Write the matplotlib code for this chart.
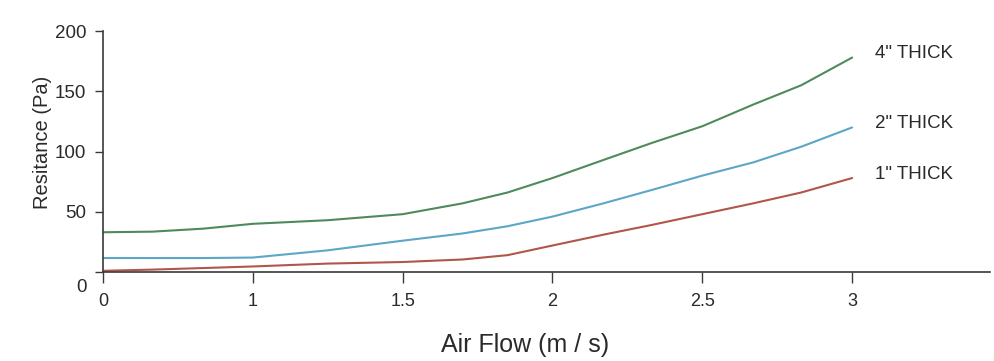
import numpy as np
import matplotlib.pyplot as plt
import matplotlib.transforms as mtransforms

# tick positions on the x axis are evenly spaced although the values are not
tick_flow = [0, 1, 1.5, 2, 2.5, 3]
tick_labels = ["0", "1", "1.5", "2", "2.5", "3"]

flow = [0, 0.33, 0.67, 1, 1.25, 1.5, 1.7, 1.85, 2, 2.17, 2.33, 2.5, 2.67, 2.83, 3]
thick4 = [33, 33.5, 36, 40, 43, 48, 57, 66, 78, 93, 107, 121, 139, 155, 178]
thick2 = [11.6, 11.6, 11.6, 12, 18, 26, 32, 38, 46, 57, 68, 80, 91, 104, 120]
thick1 = [1, 2, 3.3, 4.6, 7, 8.3, 10.4, 14, 22, 31, 39, 48, 57, 66, 78]

series = [("4\" THICK", thick4, "#4f8a5c"),
          ("2\" THICK", thick2, "#5ca6c6"),
          ("1\" THICK", thick1, "#b0564a")]

tick_pos = np.arange(len(tick_flow))


def fwd(x):
    x = np.asarray(x, dtype=float)
    out = np.interp(x, tick_flow, tick_pos)
    hi = x > tick_flow[-1]
    return np.where(hi, tick_pos[-1] + (x - tick_flow[-1]) / 0.5, out)


def inv(p):
    p = np.asarray(p, dtype=float)
    out = np.interp(p, tick_pos, tick_flow)
    hi = p > tick_pos[-1]
    return np.where(hi, tick_flow[-1] + (p - tick_pos[-1]) * 0.5, out)


plt.rcParams["font.family"] = ["Liberation Sans", "DejaVu Sans"]

fig = plt.figure(figsize=(9.95, 3.61), dpi=100)
ax = fig.add_axes([0.1035, 0.2465, 0.8915, 0.6675])
ax.set_xscale("function", functions=(fwd, inv))

for name, vals, col in series:
    ax.plot(flow, vals, color=col, lw=1.5, solid_capstyle="round")
    ax.text(3.075, vals[-1] + 3, name, fontsize=13.5, color="#2a2a2a",
            va="center", ha="left")

ax.set_xlim(0, 3.46)
ax.set_ylim(0, 200)
ax.set_xticks(tick_flow)
ax.set_xticklabels(tick_labels)
ax.set_yticks([0, 50, 100, 150, 200])
ax.minorticks_off()

for s in ["top", "right"]:
    ax.spines[s].set_visible(False)
for s in ["left", "bottom"]:
    ax.spines[s].set_color("#3a3a3a")
    ax.spines[s].set_linewidth(1.2)

ax.tick_params(axis="x", direction="out", length=8, width=1, colors="#3a3a3a",
               labelsize=13, pad=7, labelcolor="#2a2a2a")
ax.tick_params(axis="y", direction="out", length=6, width=1, colors="#3a3a3a",
               labelsize=13.5, pad=6, labelcolor="#2a2a2a")

# the "0" on the y axis sits a little below its tick in the original
ylab0 = ax.get_yticklabels()[0]
ylab0.set_transform(ylab0.get_transform() +
                    mtransforms.ScaledTranslation(0, -0.13, fig.dpi_scale_trans))

ax.set_xlabel("Air Flow (m / s)", fontsize=18, color="#2a2a2a")
ax.xaxis.set_label_coords(0.476, -0.255)
ax.set_ylabel("Resitance (Pa)", fontsize=14.5, color="#2a2a2a")
ax.yaxis.set_label_coords(-0.058, 0.54)

fig.savefig("out.png", dpi=100)
